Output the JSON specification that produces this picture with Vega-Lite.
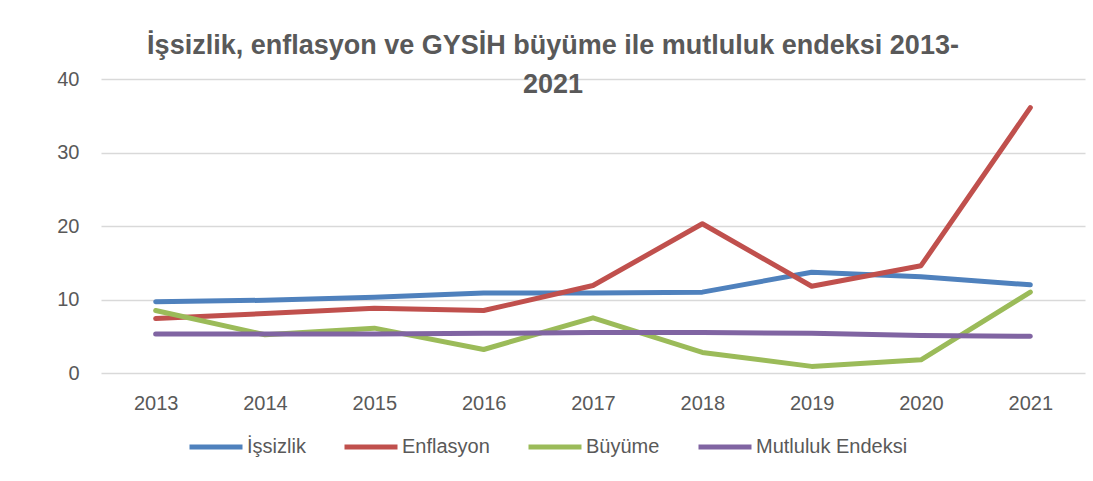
{
  "$schema": "https://vega.github.io/schema/vega-lite/v6.json",
  "autosize": "none",
  "width": 984,
  "height": 294,
  "padding": {"left": 101, "top": 79, "right": 8, "bottom": 108},
  "background": "white",
  "title": {
    "text": ["İşsizlik, enflasyon ve GYSİH büyüme ile mutluluk endeksi 2013-", "2021"],
    "font": "Liberation Sans",
    "fontSize": 27,
    "fontWeight": "bold",
    "color": "#595959",
    "anchor": "middle",
    "dx": -40,
    "lineHeight": 39,
    "offset": -30
  },
  "data": {
    "values": [
      {"year": "2013", "series": "İşsizlik", "value": 9.7},
      {"year": "2014", "series": "İşsizlik", "value": 9.9},
      {"year": "2015", "series": "İşsizlik", "value": 10.3},
      {"year": "2016", "series": "İşsizlik", "value": 10.9},
      {"year": "2017", "series": "İşsizlik", "value": 10.9},
      {"year": "2018", "series": "İşsizlik", "value": 11.0},
      {"year": "2019", "series": "İşsizlik", "value": 13.7},
      {"year": "2020", "series": "İşsizlik", "value": 13.1},
      {"year": "2021", "series": "İşsizlik", "value": 12.0},
      {"year": "2013", "series": "Enflasyon", "value": 7.4},
      {"year": "2014", "series": "Enflasyon", "value": 8.1},
      {"year": "2015", "series": "Enflasyon", "value": 8.8},
      {"year": "2016", "series": "Enflasyon", "value": 8.5},
      {"year": "2017", "series": "Enflasyon", "value": 11.9},
      {"year": "2018", "series": "Enflasyon", "value": 20.3},
      {"year": "2019", "series": "Enflasyon", "value": 11.8},
      {"year": "2020", "series": "Enflasyon", "value": 14.6},
      {"year": "2021", "series": "Enflasyon", "value": 36.1},
      {"year": "2013", "series": "Büyüme", "value": 8.5},
      {"year": "2014", "series": "Büyüme", "value": 5.2},
      {"year": "2015", "series": "Büyüme", "value": 6.1},
      {"year": "2016", "series": "Büyüme", "value": 3.2},
      {"year": "2017", "series": "Büyüme", "value": 7.5},
      {"year": "2018", "series": "Büyüme", "value": 2.8},
      {"year": "2019", "series": "Büyüme", "value": 0.9},
      {"year": "2020", "series": "Büyüme", "value": 1.8},
      {"year": "2021", "series": "Büyüme", "value": 11.0},
      {"year": "2013", "series": "Mutluluk Endeksi", "value": 5.3},
      {"year": "2014", "series": "Mutluluk Endeksi", "value": 5.3},
      {"year": "2015", "series": "Mutluluk Endeksi", "value": 5.3},
      {"year": "2016", "series": "Mutluluk Endeksi", "value": 5.4},
      {"year": "2017", "series": "Mutluluk Endeksi", "value": 5.5},
      {"year": "2018", "series": "Mutluluk Endeksi", "value": 5.5},
      {"year": "2019", "series": "Mutluluk Endeksi", "value": 5.4},
      {"year": "2020", "series": "Mutluluk Endeksi", "value": 5.1},
      {"year": "2021", "series": "Mutluluk Endeksi", "value": 5.0}
    ]
  },
  "mark": {"type": "line", "strokeWidth": 5, "strokeCap": "round", "strokeJoin": "round"},
  "encoding": {
    "x": {
      "field": "year",
      "type": "ordinal",
      "scale": {"type": "point", "padding": 0.5},
      "axis": {
        "title": null,
        "labelAngle": 0,
        "domain": false,
        "ticks": false,
        "labelFont": "Liberation Sans",
        "labelFontSize": 20,
        "labelColor": "#595959",
        "labelPadding": 20,
        "grid": false
      }
    },
    "y": {
      "field": "value",
      "type": "quantitative",
      "scale": {"domain": [0, 40]},
      "axis": {
        "title": null,
        "values": [0, 10, 20, 30, 40],
        "domain": false,
        "ticks": false,
        "labelFont": "Liberation Sans",
        "labelFontSize": 20,
        "labelColor": "#595959",
        "labelPadding": 22,
        "gridColor": "#D9D9D9",
        "gridWidth": 1.5
      }
    },
    "color": {
      "field": "series",
      "type": "nominal",
      "sort": ["İşsizlik", "Enflasyon", "Büyüme", "Mutluluk Endeksi"],
      "scale": {
        "domain": ["İşsizlik", "Enflasyon", "Büyüme", "Mutluluk Endeksi"],
        "range": ["#4F81BD", "#C0504D", "#9BBB59", "#8064A2"]
      },
      "legend": {
        "title": null,
        "orient": "none",
        "legendX": 86,
        "legendY": 339,
        "direction": "horizontal",
        "symbolType": "stroke",
        "symbolSize": 2809,
        "symbolStrokeWidth": 5,
        "labelFont": "Liberation Sans",
        "labelFontSize": 20,
        "labelColor": "#595959",
        "labelOffset": 2,
        "columnPadding": 28
      }
    }
  },
  "config": {"view": {"stroke": null}}
}
